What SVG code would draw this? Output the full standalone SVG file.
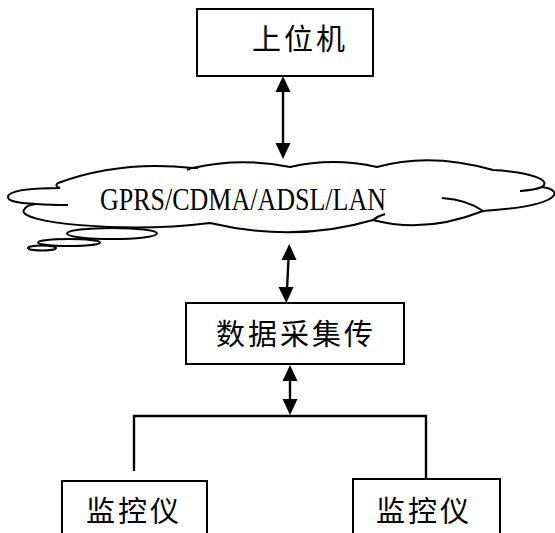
<svg xmlns="http://www.w3.org/2000/svg" width="555" height="533" viewBox="0 0 555 533">
<style>
.box{fill:#fff;stroke:#000;stroke-width:2}
.ln{fill:none;stroke:#000;stroke-width:2.4}
.ah{fill:#000;stroke:none}
.cl{fill:#fff;stroke:#000;stroke-width:2}
.cs{fill:none;stroke:#000;stroke-width:2}
.cn{font-family:"Noto Sans CJK SC","Noto Sans",sans-serif;font-size:29px;letter-spacing:3px;fill:#000}
.lat{font-family:"Liberation Serif",serif;font-size:31px;fill:#000}
</style>

<g id="connectors">
<line class="ln" x1="283" y1="88" x2="283" y2="147"/>
<polygon class="ah" points="283,76 275.5,92 290.5,92"/>
<polygon class="ah" points="283,159 275.5,143 290.5,143"/>
<line class="ln" x1="288.7" y1="256" x2="286.9" y2="291"/>
<polygon class="ah" points="289.3,244 281.5,260 296.5,260"/>
<polygon class="ah" points="286.3,303 278.5,287 293.5,287"/>
<line class="ln" x1="290" y1="377" x2="290" y2="403"/>
<polygon class="ah" points="290,365 282.5,381 297.5,381"/>
<polygon class="ah" points="290,415 282.5,399 297.5,399"/>
<polyline class="ln" points="134,471 134,416 426,416 426,480"/>
</g>

<g id="cloud">
<path class="cl" d="M58,183 Q120,160 193,168 Q240,157 290,167 Q333,157 377,167 Q430,152 493,170 C530,172 552,180 542,187 C565,190 562,206 483,211 Q425,234 373,220 Q295,243 210,223 C120,234 15,222 24,210 Q26,205 36,204 C15,203 8,201 8,197 C8,190 35,188 60,188 Q54,186 58,183 Z"/>
<path class="cs" d="M36,204 Q50,205 68,205"/>
<path class="cs" d="M542,187 Q535,190 520,191"/>
<path class="cs" d="M483,211 Q468,200 442,198"/>
<path class="cs" d="M187,170 Q192,167 198,168"/>
<path class="cs" d="M373,220 Q378,216 385,214"/>
<ellipse class="cl" cx="112" cy="233.5" rx="45" ry="5.5"/>
<ellipse class="cl" cx="69" cy="242.5" rx="31" ry="3.5"/>
<ellipse class="cl" cx="42" cy="248" rx="14" ry="2.5"/>
<text class="lat" x="100" y="210" textLength="286" lengthAdjust="spacingAndGlyphs">GPRS/CDMA/ADSL/LAN</text>
</g>

<g id="host">
<rect class="box" x="197" y="9" width="176" height="67"/>
<text class="cn" x="252" y="50">上位机</text>
</g>

<g id="collector">
<rect class="box" x="186" y="303" width="218" height="61"/>
<text class="cn" x="216" y="345">数据采集传</text>
</g>

<g id="monitor1">
<rect class="box" x="62" y="481" width="145" height="60"/>
<text class="cn" x="86" y="522">监控仪</text>
</g>

<g id="monitor2">
<rect class="box" x="353" y="479" width="147" height="62"/>
<text class="cn" x="376" y="522">监控仪</text>
</g>
</svg>
